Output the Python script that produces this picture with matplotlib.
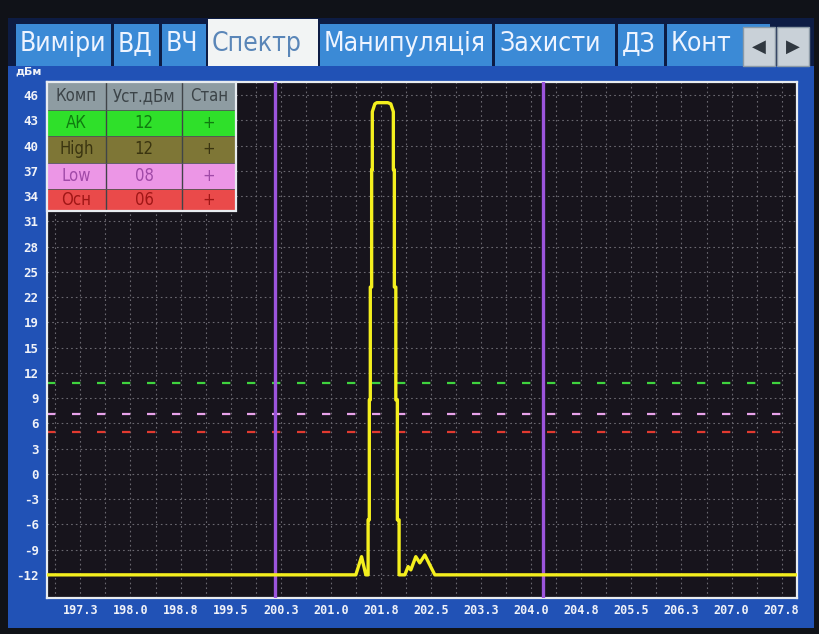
import numpy as np
import matplotlib
matplotlib.use("Agg")
import matplotlib.pyplot as plt
from matplotlib.patches import Rectangle

W, H = 819, 634

# ---------------- data ----------------
tabs = ["Виміри", "ВД", "ВЧ", "Спектр", "Манипуляція", "Захисти", "ДЗ", "Конт"]
active_tab = "Спектр"

y_tick_labels = ["46", "43", "40", "37", "34", "31", "28", "25", "22", "19",
                 "15", "12", "9", "6", "3", "0", "-3", "-6", "-9", "-12"]
x_tick_labels = ["197.3", "198.0", "198.8", "199.5", "200.3", "201.0", "201.8",
                 "202.5", "203.3", "204.0", "204.8", "205.5", "206.3", "207.0", "207.8"]

# spectrum trace (MHz, dBm)
freq = [196.80, 201.424, 201.51, 201.574, 201.608, 201.608, 201.626, 201.626,
        201.641, 201.641, 201.661, 201.661, 201.671, 201.671, 201.709, 201.739,
        201.903, 201.948, 201.986, 201.986, 202.001, 202.001, 202.023, 202.023,
        202.046, 202.046, 202.072, 202.072, 202.158, 202.207, 202.248, 202.322,
        202.382, 202.457, 202.532, 202.607, 208.05]
level = [-12.0, -12.0, -9.8, -12.0, -12.0, -5.35, -5.35, 9.16,
         9.16, 22.8, 22.8, 37.0, 37.0, 44.0, 44.95, 45.1,
         45.1, 44.95, 44.0, 37.0, 37.0, 22.8, 22.8, 9.16,
         9.16, -5.35, -5.35, -12.0, -12.0, -11.0, -11.4, -9.8,
         -10.55, -9.6, -10.8, -12.0, -12.0]

markers_mhz = [200.21, 204.22]

table_comp = ["АК", "High", "Low", "Осн"]
table_set = ["12", "12", "08", "06"]
table_state = ["+", "+", "+", "+"]
threshold_levels = [11.2, 7.4, 5.3]          # AK/High, Low, Осн lines
threshold_colors = ["#3fd43f", "#e8a2ea", "#e23a30"]

# --------------- figure ---------------
plt.rcParams['lines.scale_dashes'] = False
fig = plt.figure(figsize=(W / 100, H / 100), dpi=100)
fig.patch.set_facecolor("#101218")

def fx(x):
    return x / W

def fy(y):
    return 1 - y / H

def prect(x0, y0, x1, y1, color, z=-5, ec="none", lw=0):
    r = Rectangle((fx(x0), fy(y1)), fx(x1) - fx(x0), fy(y0) - fy(y1),
                  transform=fig.transFigure, facecolor=color, edgecolor=ec,
                  linewidth=lw, zorder=z)
    fig.add_artist(r)
    return r

# blue panel
prect(8, 60, 814, 628, "#2152b6", z=-10)
prect(8, 18, 814, 66, "#0d1c44", z=-9)

# tabs
tab_x = [(16, 111), (114, 159), (162, 206), (208, 318), (320, 492),
         (495, 615), (618, 664), (667, 770)]
cond = dict(family=["DejaVu Sans"], stretch="condensed")
for (x0, x1), t in zip(tab_x, tabs):
    if t == active_tab:
        prect(x0, 19, x1, 66, "#f2f4f4", z=-4)
        col = "#5a86b8"
    else:
        prect(x0, 24, x1, 66, "#3b8ad6", z=-4)
        col = "#eef4ff"
    fig.text(fx(x0 + 4), fy(44), t, ha="left", va="center", fontsize=19,
             color=col, zorder=-3, **cond)
# arrow buttons
for (x0, x1), s in zip([(743, 775), (777, 809)], ["◀", "▶"]):
    prect(x0, 27, x1, 66, "#c9d1d8", z=-2, ec="#8c9aa6", lw=1)
    fig.text(fx((x0 + x1) / 2), fy(47), s, ha="center", va="center",
             fontsize=13, color="#303840", zorder=-1)

# axes
ax = fig.add_axes([fx(47), fy(598), fx(797) - fx(47), fy(82) - fy(598)])
ax.set_facecolor("#17141c")
ax.set_xlim(196.80, 208.03)
ax.set_ylim(-14.8, 47.6)

y_pos = [-12 + (58 / 19) * (len(y_tick_labels) - 1 - i) for i in range(len(y_tick_labels))]
x_pos = [197.3 + 0.75 * i for i in range(len(x_tick_labels))]
ax.set_yticks(y_pos)
ax.set_yticklabels(y_tick_labels)
ax.set_xticks(x_pos)
ax.set_xticklabels(x_tick_labels)
ax.set_xticks([p + 0.375 for p in x_pos[:-1]] + [x_pos[0] - 0.375], minor=True)
ax.tick_params(length=0, which="both")
ax.tick_params(axis="y", pad=6, labelsize=9, labelcolor="#f0f2f8")
ax.tick_params(axis="x", pad=4, labelsize=8.5, labelcolor="#f0f2f8")
for lab in ax.get_xticklabels() + ax.get_yticklabels():
    lab.set_family("DejaVu Sans Mono")
    lab.set_fontweight("bold")
ax.grid(True, which="both", color="#6a6870", linestyle=(0, (1.2, 2.2)), linewidth=0.8)
ax.set_axisbelow(True)
for s in ax.spines.values():
    s.set_color("#e8ecf0")
    s.set_linewidth(1.6)

for lvl, c in zip(threshold_levels, threshold_colors):
    ax.axhline(lvl, color=c, linewidth=1.6, dashes=(6, 12), zorder=2)
for m in markers_mhz:
    ax.axvline(m, color="#9c55dc", linewidth=2.4, zorder=3)
ax.plot(freq, level, color="#f4ef1e", linewidth=2.4, zorder=4,
        solid_joinstyle="round")

fig.text(fx(15), fy(72), "дБм", ha="left", va="center", fontsize=8,
         color="#f0f2f8", fontweight="bold")

# table
cols = [47, 106, 182, 236]
rows = [82, 110, 136, 163, 189, 211]
row_bg = ["#8e9ca2", "#2fe02a", "#7e7636", "#ec96e6", "#ea4a4a"]
row_fg = ["#3c4448", "#0f7a10", "#3a3410", "#a04aa8", "#a01616"]
header = ["Комп", "Уст.дБм", "Стан"]
cells = [header] + [[a, b, c] for a, b, c in zip(table_comp, table_set, table_state)]
for r in range(5):
    prect(cols[0], rows[r], cols[3], rows[r + 1], row_bg[r], z=5)
    for c in range(3):
        fig.text(fx((cols[c] + cols[c + 1]) / 2), fy((rows[r] + rows[r + 1]) / 2),
                 cells[r][c], ha="center", va="center", fontsize=12,
                 color=row_fg[r], zorder=7, **cond)
for cx in cols[1:3]:
    fig.add_artist(plt.Line2D([fx(cx), fx(cx)], [fy(rows[0]), fy(rows[-1])],
                              transform=fig.transFigure, color="#404448",
                              linewidth=1, zorder=6))
for ry in rows[1:-1]:
    fig.add_artist(plt.Line2D([fx(cols[0]), fx(cols[-1])], [fy(ry), fy(ry)],
                              transform=fig.transFigure, color="#505458",
                              linewidth=0.6, zorder=6))
prect(cols[0], rows[0], cols[3], rows[-1], "none", z=6, ec="#e8ecf0", lw=1.6)

fig.savefig("out.png", dpi=100, facecolor=fig.get_facecolor())
